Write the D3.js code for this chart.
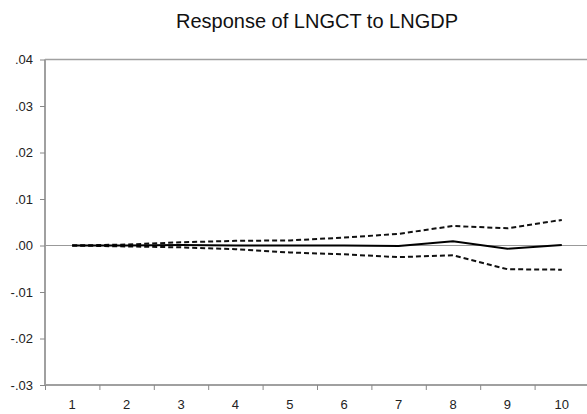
<!DOCTYPE html>
<html><head><meta charset="utf-8">
<script src="https://cdn.jsdelivr.net/npm/d3@7"></script>
<style>body{margin:0;background:#fff}svg{display:block}</style>
</head><body>
<svg id="c" width="587" height="414"></svg>
<script>
const periods = [1,2,3,4,5,6,7,8,9,10];
const response = [0, 0, 0.0001, 0, 0, 0, -0.0001, 0.0009, -0.0007, 0.0001];
const upper = [0, 0.0002, 0.0007, 0.0010, 0.0011, 0.0017, 0.0025, 0.0042, 0.0037, 0.0055];
const lower = [0, -0.0002, -0.0004, -0.0008, -0.0015, -0.0019, -0.0025, -0.0021, -0.0051, -0.0052];
const yTicks = [0.04,0.03,0.02,0.01,0,-0.01,-0.02,-0.03];
const yTickLabels = [".04",".03",".02",".01",".00","-.01","-.02","-.03"];
const title = "Response of LNGCT to LNGDP";

const svg = d3.select("#c");
const L = 45, R = 589, T = 59.5, B = 385;
const x = d3.scaleLinear().domain([0.5, 10.5]).range([L, R]);
const y = d3.scaleLinear().domain([-0.03, 0.04]).range([B, T]);
const font = "Arial, 'Liberation Sans', sans-serif";

svg.append("text").attr("x", 317).attr("y", 28).attr("text-anchor","middle")
  .attr("font-family", font).attr("font-size", 20).attr("fill","#111").text(title);

// frame
svg.append("line").attr("x1",L).attr("x2",587).attr("y1",T).attr("y2",T).attr("stroke","#a0a0a0").attr("stroke-width",1.5);
svg.append("line").attr("x1",L).attr("x2",L).attr("y1",T).attr("y2",B).attr("stroke","#a0a0a0").attr("stroke-width",2);
svg.append("line").attr("x1",L).attr("x2",587).attr("y1",B).attr("y2",B).attr("stroke","#a0a0a0").attr("stroke-width",2);
// zero line
svg.append("line").attr("x1",L).attr("x2",587).attr("y1",y(0)).attr("y2",y(0)).attr("stroke","#999").attr("stroke-width",1);

// y axis
const yAxis = d3.axisLeft(y).tickValues(yTicks).tickSize(5).tickPadding(7)
  .tickFormat((d,i)=>yTickLabels[i]);
const gy = svg.append("g").attr("transform",`translate(${L},0)`).call(yAxis);
gy.select(".domain").remove();
gy.selectAll(".tick line").attr("stroke","#888");
gy.selectAll(".tick text").attr("font-family",font).attr("font-size",13).attr("fill","#222");

// x axis ticks at band boundaries
const bounds = d3.range(0.5, 10.6, 1);
const gx = svg.append("g").attr("transform",`translate(0,${B})`)
  .call(d3.axisBottom(x).tickValues(bounds).tickSize(5).tickFormat(""));
gx.select(".domain").remove();
gx.selectAll(".tick line").attr("stroke","#888");
svg.append("g").selectAll("text").data(periods).join("text")
  .attr("x", d=>x(d)).attr("y", 409).attr("text-anchor","middle")
  .attr("font-family",font).attr("font-size",13).attr("fill","#222").text(d=>d);

const line = d3.line().x((d,i)=>x(periods[i])).y(d=>y(d));
svg.append("path").attr("d", line(upper)).attr("fill","none").attr("stroke","#111")
  .attr("stroke-width",2).attr("stroke-dasharray","5,3");
svg.append("path").attr("d", line(lower)).attr("fill","none").attr("stroke","#111")
  .attr("stroke-width",2).attr("stroke-dasharray","5,3");
svg.append("path").attr("d", line(response)).attr("fill","none").attr("stroke","#000")
  .attr("stroke-width",2);
</script>
</body></html>
